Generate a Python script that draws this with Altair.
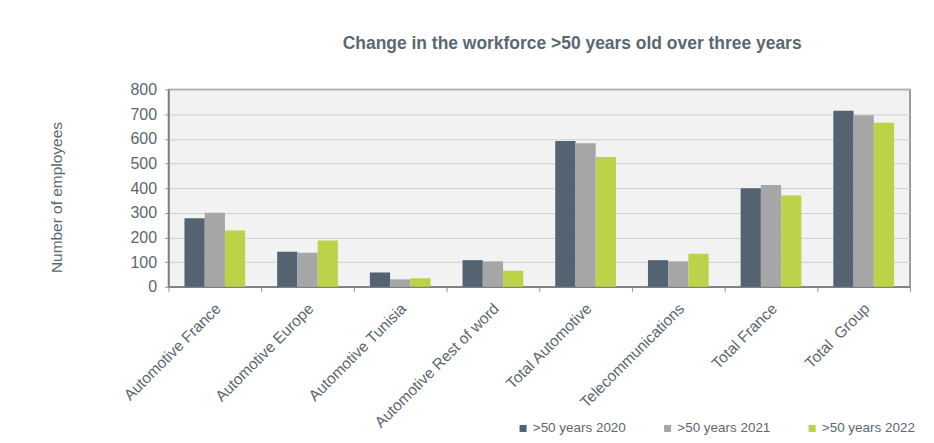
import altair as alt
import pandas as pd

categories = ["Automotive France", "Automotive Europe", "Automotive Tunisia",
              "Automotive Rest of word", "Total Automotive", "Telecommunications",
              "Total France", "Total\u00a0 Group"]
series = [">50 years 2020", ">50 years 2021", ">50 years 2022"]
v2020 = [278, 142, 58, 108, 591, 108, 399, 714]
v2021 = [300, 138, 30, 103, 582, 103, 413, 695]
v2022 = [228, 188, 35, 65, 526, 134, 370, 665]
colors = ["#536372", "#A6A6A6", "#BDD248"]
y_ticks = [0, 100, 200, 300, 400, 500, 600, 700, 800]

rows = []
for s, vals in zip(series, [v2020, v2021, v2022]):
    for c, v in zip(categories, vals):
        rows.append({"category": c, "series": s, "value": v})
df = pd.DataFrame(rows)

FONT = "Liberation Sans"
TXT = "#5B6770"

chart = alt.Chart(df).mark_bar().encode(
    x=alt.X("category:N", sort=categories,
            scale=alt.Scale(paddingInner=0, paddingOuter=0),
            axis=alt.Axis(title=None, labelAngle=-45, tickBand="extent",
                          labelFontSize=15.5, labelColor=TXT, labelFont=FONT,
                          tickColor="#9A9A9A", tickSize=5, domainColor="#7F7F7F",
                          domainWidth=1.5, labelPadding=9, labelOffset=-2)),
    xOffset=alt.XOffset("series:N", sort=series,
                        scale=alt.Scale(paddingInner=0, paddingOuter=0.79)),
    y=alt.Y("value:Q", scale=alt.Scale(domain=[0, 800], nice=False),
            axis=alt.Axis(values=y_ticks, title="Number of employees",
                          labelFontSize=16, labelColor=TXT, labelFont=FONT,
                          tickColor="#9A9A9A", tickSize=4, domainColor="#7F7F7F",
                          domainWidth=1.5, gridColor="#CFCFCF", gridWidth=1,
                          labelPadding=8, titleX=-112, titleY=108,
                          titleAlign="center", titleBaseline="middle",
                          titleFontSize=15.5, titleFontWeight="normal",
                          titleColor=TXT, titleFont=FONT)),
    color=alt.Color("series:N", sort=series,
                    scale=alt.Scale(domain=series, range=colors),
                    legend=alt.Legend(title=None, orient="none", legendX=349,
                                      legendY=333, direction="horizontal",
                                      symbolType="square", symbolSize=50,
                                      symbolStrokeWidth=0, labelFontSize=13.5,
                                      labelColor=TXT, labelFont=FONT,
                                      columnPadding=35, labelOffset=3)),
).properties(
    width=744,
    height=198,
    title=alt.TitleParams("Change in the workforce >50 years old over three years",
                          fontSize=17.5, fontWeight="bold", color=TXT, font=FONT,
                          anchor="middle", dx=33, offset=29),
    autosize=alt.AutoSizeParams(type="none"),
    padding={"left": 161, "top": 81, "right": 16, "bottom": 148},
).configure_view(
    fill="#F2F2F2", stroke="#7F7F7F", strokeWidth=1.5
)

chart.save("out.html", embed_options={"renderer": "svg", "actions": False})
